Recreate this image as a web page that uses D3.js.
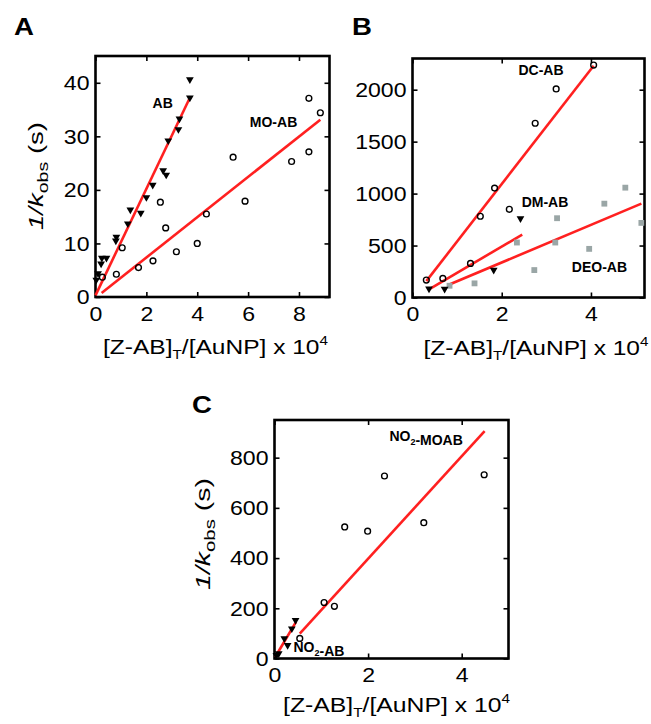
<!DOCTYPE html>
<html><head><meta charset="utf-8">
<script src="https://cdn.jsdelivr.net/npm/d3@7"></script>
<style>
body{margin:0;background:#fff}
svg{display:block}
text{font-family:"Liberation Sans",Arial,Helvetica,sans-serif;fill:#000}
</style>
</head><body>
<svg id="c" width="651" height="724"></svg>
<script>
// ---------- Panel A data ----------
const abX  = [0.03,0.10,0.22,0.25,0.43,0.80,0.82,1.27,1.37,1.78,2.00,2.25,2.66,2.78,2.86,3.26,3.30,3.71,3.71];
const abY  = [3.2,4.4,6.2,7.3,7.3,10.5,11.2,13.7,16.3,15.7,18.6,20.9,23.6,22.8,29.2,31.3,33.3,37.2,40.6];
const moX  = [0.27,0.82,1.05,1.69,2.26,2.55,2.76,3.18,4.00,4.36,5.41,5.88,7.71,8.39,8.39,8.84];
const moY  = [3.7,4.25,9.2,5.5,6.75,17.7,12.9,8.45,10.0,15.5,26.1,17.9,25.3,37.1,27.1,34.4];
const abFitX = [0.0,3.71], abFitY = [0.3,37.2];
const moFitX = [0.24,8.84], moFitY = [0.75,33.1];
const aXTicks = [0,2,4,6,8], aYTicks = [0,10,20,30,40];

// ---------- Panel B data ----------
const dcX  = [0.31,0.68,1.30,1.52,1.84,2.17,2.75,3.22,4.06];
const dcY  = [168,184,328,782,1053,849,1677,2007,2237];
const dmX  = [0.37,0.72,1.82,2.42];
const dmY  = [84,82,264,760];
const deoX = [0.83,1.39,2.34,2.73,3.24,3.20,3.96,4.30,4.77,5.13];
const deoY = [113,136,529,264,763,529,468,903,1057,718];
const dcFitX = [0.31,4.06], dcFitY = [158,2230];
const dmFitX = [0.37,2.46], dmFitY = [79,606];
const deoFitX = [0.80,5.13], deoFitY = [120,903];
const bXTicks = [0,2,4], bYTicks = [0,500,1000,1500,2000];

// ---------- Panel C data ----------
const nmX = [0.54,1.06,1.28,1.50,1.99,2.35,3.19,4.48];
const nmY = [80,223,208,524,507,727,541,732];
const naX = [0.45,0.37,0.21,0.28,0.09,0.04];
const naY = [152,119,80,53,20,13];
const naFitX = [0.015,0.46], naFitY = [6,146];
const nmFitX = [0.54,4.49], nmFitY = [99,906];
const cXTicks = [0,2,4], cYTicks = [0,200,400,600,800];

const RED = "#ff2020", GREY = "#9aa6a6";
const svg = d3.select("#c");

function stretch(sel, sx){
  sel.each(function(){
    const t = d3.select(this);
    const x = +t.attr("x")||0, y = +t.attr("y")||0;
    t.attr("x",0).attr("y",0).attr("transform",`translate(${x},${y}) scale(${sx},1)`);
  });
}

function panel(cfg){
  const g = svg.append("g");
  const x = d3.scaleLinear().domain(cfg.xd).range([cfg.l,cfg.r]);
  const y = d3.scaleLinear().domain(cfg.yd).range([cfg.b,cfg.t]);
  const styleAxis = (a)=>{ a.select(".domain").remove(); a.selectAll("line").attr("stroke","#000").attr("stroke-width",1.6); a.selectAll("text").attr("font-size",21).attr("fill","#000"); };
  const bx = g.append("g").attr("transform",`translate(0,${cfg.b})`)
    .call(d3.axisBottom(x).tickValues(cfg.xt).tickSizeInner(-5).tickSizeOuter(0).tickPadding(9).tickFormat(d3.format("d")));
  styleAxis(bx); stretch(bx.selectAll("text"),1.1);
  const tx = g.append("g").attr("transform",`translate(0,${cfg.t})`)
    .call(d3.axisTop(x).tickValues(cfg.xt).tickSizeInner(-5).tickSizeOuter(0).tickFormat(""));
  styleAxis(tx);
  const ly = g.append("g").attr("transform",`translate(${cfg.l},0)`)
    .call(d3.axisLeft(y).tickValues(cfg.yt).tickSizeInner(-5).tickSizeOuter(0).tickPadding(6).tickFormat(d3.format("d")));
  styleAxis(ly); stretch(ly.selectAll("text"),1.1);
  const ry = g.append("g").attr("transform",`translate(${cfg.r},0)`)
    .call(d3.axisRight(y).tickValues(cfg.yt).tickSizeInner(-5).tickSizeOuter(0).tickFormat(""));
  styleAxis(ry);
  g.append("rect").attr("x",cfg.l).attr("y",cfg.t).attr("width",cfg.r-cfg.l).attr("height",cfg.b-cfg.t)
    .attr("fill","none").attr("stroke","#000").attr("stroke-width",2.6);
  // fit lines
  const line = d3.line().x(d=>x(d[0])).y(d=>y(d[1]));
  cfg.fits.forEach(f=>{
    g.append("path").attr("d",line(d3.zip(f[0],f[1]))).attr("fill","none").attr("stroke",RED).attr("stroke-width",2.6);
  });
  // markers
  cfg.series.forEach(s=>{
    const pts = d3.zip(s.x,s.y);
    if(s.type==="circle"){
      g.selectAll(null).data(pts).enter().append("circle")
        .attr("cx",d=>x(d[0])).attr("cy",d=>y(d[1])).attr("r",2.9)
        .attr("fill","none").attr("stroke","#000").attr("stroke-width",1.4);
    } else if(s.type==="tri"){
      const p = d3.symbol().type(d3.symbolTriangle).size(26)();
      g.selectAll(null).data(pts).enter().append("path").attr("d",p)
        .attr("transform",d=>`translate(${x(d[0])},${y(d[1])}) rotate(180)`).attr("fill","#000");
    } else {
      const p = d3.symbol().type(d3.symbolSquare).size(34)();
      g.selectAll(null).data(pts).enter().append("path").attr("d",p)
        .attr("transform",d=>`translate(${x(d[0])},${y(d[1])})`).attr("fill",GREY);
    }
  });
  // series labels
  cfg.labels.forEach(lb=>{
    const t = g.append("text").attr("x",x(lb.x)).attr("y",y(lb.y)).attr("text-anchor","middle")
      .attr("font-size",14).attr("font-weight","bold");
    lb.parts.forEach(p=>{
      if(p.sub){ t.append("tspan").attr("font-size",9).attr("dy",4).text(p.t); t.append("tspan").attr("dy",-4).text(""); }
      else t.append("tspan").text(p.t);
    });
  });
  // x axis label
  const xl = g.append("text").attr("font-size",21).attr("text-anchor","middle");
  xl.append("tspan").text("[Z-AB]");
  xl.append("tspan").attr("font-size",13).attr("dy",5).text("T");
  xl.append("tspan").attr("dy",-5).text("/[AuNP] x 10");
  xl.append("tspan").attr("font-size",13).attr("dy",-9).text("4");
  const w = xl.node().getComputedTextLength();
  const sx = cfg.xlW / w;
  xl.attr("transform",`translate(${cfg.xlX},${cfg.xlY}) scale(${sx},1)`);
  // y axis label
  if(cfg.ylX){
    const yl = g.append("text").attr("font-size",21).attr("text-anchor","middle");
    yl.append("tspan").attr("font-style","italic").text("1/k");
    yl.append("tspan").attr("font-size",15).attr("dy",5).text("obs");
    yl.append("tspan").attr("dy",-5).text(" (s)");
    const wy = yl.node().getComputedTextLength();
    yl.attr("transform",`translate(${cfg.ylX},${cfg.ylY}) rotate(-90) scale(${cfg.ylW/wy},1)`);
  }
  // panel letter
  svg.append("text").attr("x",0).attr("y",0).attr("font-size",23).attr("font-weight","bold")
    .attr("transform",`translate(${cfg.letX},${cfg.letY}) scale(1.2,1)`).text(cfg.letter);
}

panel({l:95.5,r:329.5,t:56,b:297,xd:[0,9.2],yd:[0,45],xt:aXTicks,yt:aYTicks,
  fits:[[abFitX,abFitY],[moFitX,moFitY]],
  series:[{type:"tri",x:abX,y:abY},{type:"circle",x:moX,y:moY}],
  labels:[{x:2.64,y:35.2,parts:[{t:"AB"}]},{x:7.0,y:31.7,parts:[{t:"MO-AB"}]}],
  xlX:215.5,xlY:354,xlW:225, ylX:43,ylY:176,ylW:108, letter:"A",letX:14,letY:35});

panel({l:412.5,r:644.5,t:58.5,b:297.5,xd:[0,5.2],yd:[0,2300],xt:bXTicks,yt:bYTicks,
  fits:[[dcFitX,dcFitY],[dmFitX,dmFitY],[deoFitX,deoFitY]],
  series:[{type:"square",x:deoX,y:deoY},{type:"circle",x:dcX,y:dcY},{type:"tri",x:dmX,y:dmY}],
  labels:[{x:2.88,y:2141,parts:[{t:"DC-AB"}]},{x:2.97,y:874,parts:[{t:"DM-AB"}]},{x:4.19,y:248,parts:[{t:"DEO-AB"}]}],
  xlX:536,xlY:355,xlW:225, ylX:null, letter:"B",letX:352,letY:35});

panel({l:274.5,r:508.5,t:420,b:658.5,xd:[0,5],yd:[0,950],xt:cXTicks,yt:cYTicks,
  fits:[[naFitX,naFitY],[nmFitX,nmFitY]],
  series:[{type:"circle",x:nmX,y:nmY},{type:"tri",x:naX,y:naY}],
  labels:[{x:3.24,y:867,parts:[{t:"NO"},{t:"2",sub:true},{t:"-MOAB"}]},{x:0.95,y:26,parts:[{t:"NO"},{t:"2",sub:true},{t:"-AB"}]}],
  xlX:396.5,xlY:712,xlW:227, ylX:210,ylY:534,ylW:112, letter:"C",letX:192,letY:413});
</script>
</body></html>
